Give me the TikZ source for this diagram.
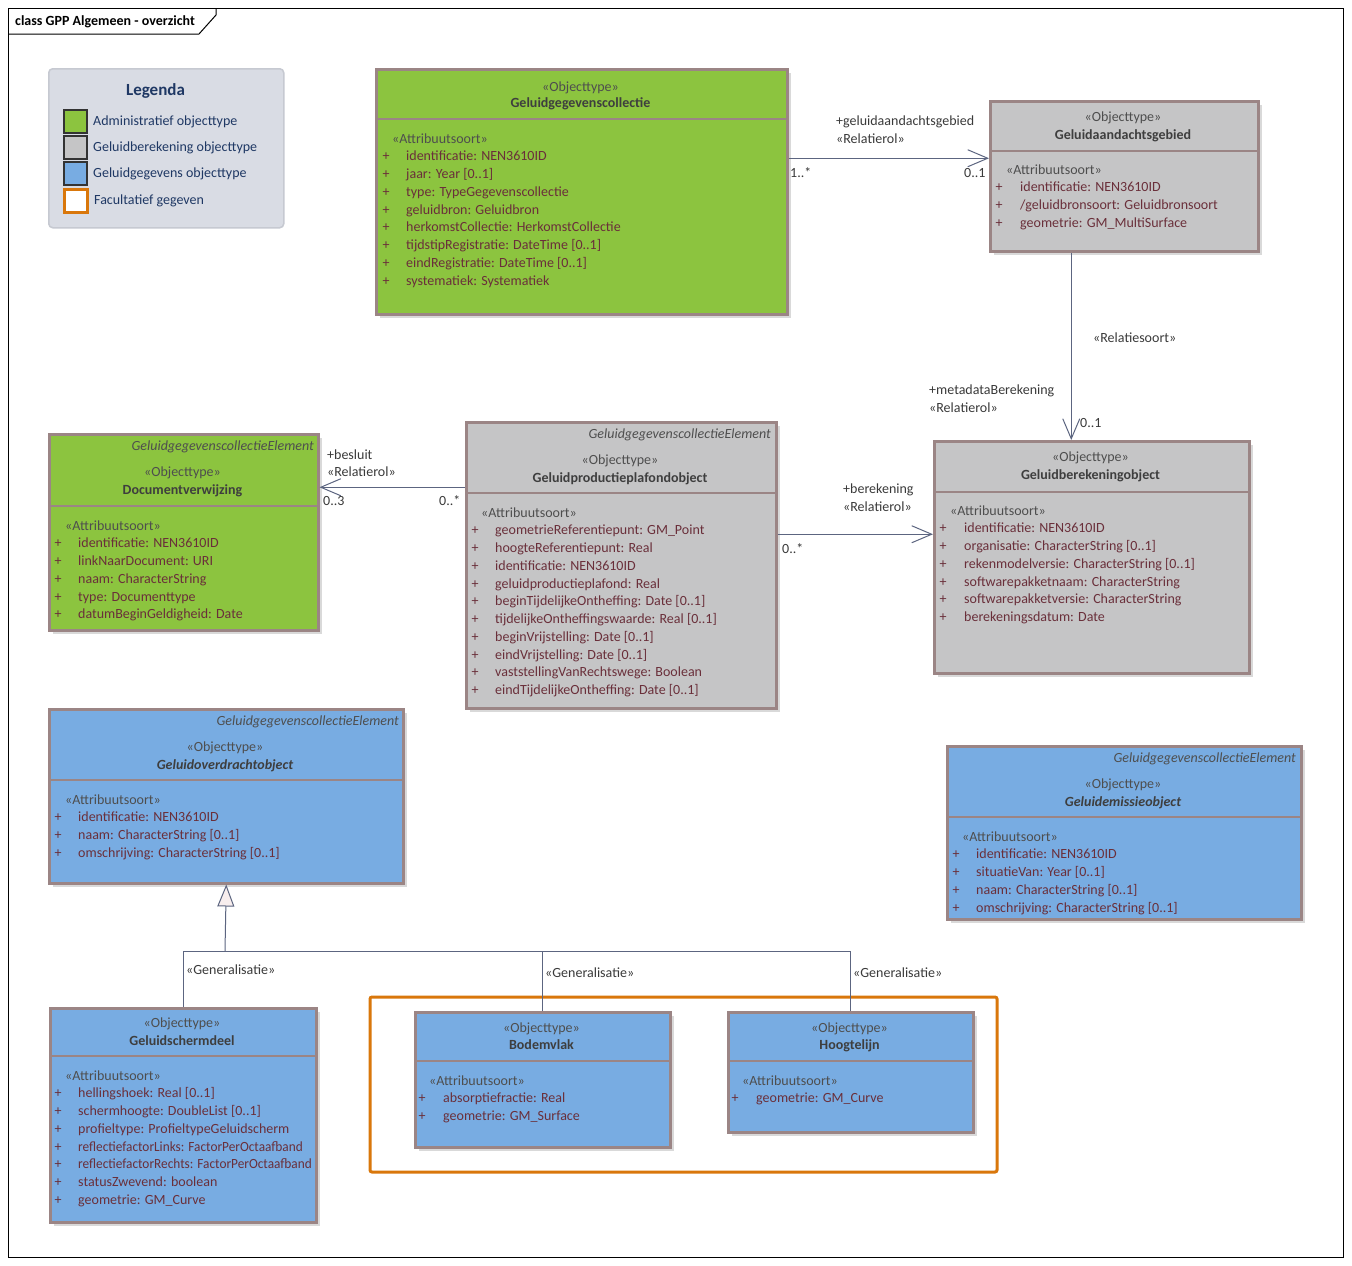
\documentclass[tikz,border=0pt]{standalone}
\usepackage{fontspec}
\setmainfont{Carlito}
\usepackage{graphicx}
\usepackage{tikz}
\usetikzlibrary{positioning, arrows.meta, shadows}
\definecolor{GreenFill}{HTML}{8CC43F}
\definecolor{GrayFill}{HTML}{C5C5C6}
\definecolor{BlueFill}{HTML}{78ACE2}
\definecolor{BoxBorder}{HTML}{9B8585}
\definecolor{AttrText}{HTML}{6A2F3A}
\definecolor{StereoText}{HTML}{4E4E4E}
\definecolor{NameText}{HTML}{3E3E3E}
\definecolor{LinkColor}{HTML}{5C6580}
\definecolor{LabelText}{HTML}{3A3A3A}
\definecolor{OptOrange}{HTML}{D9770B}
\definecolor{LegendFill}{HTML}{D9DCE4}
\definecolor{LegendLine}{HTML}{C6C9D1}
\definecolor{LegendText}{HTML}{1F3864}
\definecolor{TriFill}{HTML}{F8EEEE}
\newcommand{\umlfont}{\fontsize{14}{17}\selectfont}
\newcommand{\squeezed}[1]{\scalebox{0.95}[1]{#1}}

\begin{document}
\begin{tikzpicture}[
    x=1pt, y=-1pt,
    classbox/.style={
      rectangle, anchor=north west, inner sep=0pt,
      draw=BoxBorder, line width=2.5pt,
      drop shadow={shadow xshift=4pt, shadow yshift=-4pt, fill=black!15, opacity=1}
    },
    sepline/.style={BoxBorder, line width=2pt},
    stereo/.style={anchor=base, inner sep=0pt, font=\umlfont, text=StereoText},
    clsname/.style={anchor=base, inner sep=0pt, font=\umlfont\bfseries, text=NameText},
    absname/.style={clsname, font=\umlfont\bfseries\itshape},
    elem/.style={anchor=base east, inner sep=0pt, font=\umlfont\itshape, text=StereoText},
    attrhead/.style={anchor=base west, inner sep=0pt, font=\umlfont, text=StereoText},
    attr/.style={anchor=base west, inner sep=0pt, font=\umlfont, text=AttrText},
    plus/.style={anchor=base, inner sep=0pt, font=\umlfont, text=AttrText},
    lbl/.style={anchor=base west, inner sep=0pt, font=\umlfont, text=LabelText},
    link/.style={LinkColor, line width=1pt},
    assoc/.style={link, -{Straight Barb[length=20pt, width=17pt, line width=1pt]}},
    gen/.style={link, -{Triangle[open, length=22pt, width=17pt, fill=TriFill, line width=1pt]}},
    legbox/.style={rectangle, anchor=north west, inner sep=0pt, minimum width=23pt, minimum height=23pt, draw=black!80, line width=1.5pt},
    legtext/.style={anchor=base west, inner sep=0pt, font=\umlfont, text=LegendText}
  ]
    \useasboundingbox (0,0) rectangle (1352,1266);
    \fill[white] (0,0) rectangle (1352,1266);

    %% Frame
    \draw[black, line width=1pt] (8,8) rectangle (1343,1257);
    \draw[black, line width=1pt] (8,34) -- (199,34) -- (216,15) -- (216,8);
    \node[anchor=base west, inner sep=0pt, font=\umlfont\bfseries] (title) at (15,25) {class GPP Algemeen - overzicht};

    %% Legenda
    \node[rectangle, anchor=north west, rounded corners=4pt, fill=LegendFill, draw=LegendLine, line width=1.5pt,
          minimum width=235pt, minimum height=159pt] (legend) at (48,68) {};
    \node[anchor=base, inner sep=0pt, font=\fontsize{17}{20}\selectfont\bfseries, text=LegendText] (legtitle) at (155.5,95) {Legenda};
    \node[legbox, fill=GreenFill] (leg1) at (63,109) {};
    \node[legbox, fill=GrayFill] (leg2) at (63,135) {};
    \node[legbox, fill=BlueFill] (leg3) at (63,161) {};
    \node[legbox, fill=white, draw=OptOrange, line width=2.5pt] (leg4) at (63,188) {};
    \node[legtext] (legt1) at (93,125) {Administratief objecttype};
    \node[legtext] (legt2) at (93,151) {Geluidberekening objecttype};
    \node[legtext] (legt3) at (93,177) {Geluidgegevens objecttype};
    \node[legtext] (legt4) at (94,204) {Facultatief gegeven};

    %% Facultatief kader
    \draw[OptOrange, line width=3pt, rounded corners=2pt] (370,997) rectangle (997,1172);

    %% Geluidgegevenscollectie
    \node[classbox, fill=GreenFill, minimum width=411pt, minimum height=245pt] (gc) at (375,68) {};
    \draw[sepline] (375,119) -- (786,119);
    \node[stereo] (gc-st) at (580.5,91) {«Objecttype»};
    \node[clsname] (gc-nm) at (580.5,107) {Geluidgegevenscollectie};
    \node[attrhead] (gc-ah) at (392,143) {«Attribuutsoort»};
    \foreach \a [count=\i] in {identificatie: NEN3610ID, jaar: Year [0..1], type: TypeGegevenscollectie,
        geluidbron: Geluidbron, herkomstCollectie: HerkomstCollectie, tijdstipRegistratie: DateTime [0..1],
        eindRegistratie: DateTime [0..1], systematiek: Systematiek} {
      \node[plus] (gc-p\i) at (386,143+17.75*\i) {+};
      \node[attr] (gc-a\i) at (406,143+17.75*\i) {\a};
    }

    %% Geluidaandachtsgebied
    \node[classbox, fill=GrayFill, minimum width=268pt, minimum height=150pt] (ga) at (989,100) {};
    \draw[sepline] (989,151) -- (1257,151);
    \node[stereo] (ga-st) at (1123,121) {«Objecttype»};
    \node[clsname] (ga-nm) at (1123,139) {Geluidaandachtsgebied};
    \node[attrhead] (ga-ah) at (1006,174) {«Attribuutsoort»};
    \foreach \a [count=\i] in {identificatie: NEN3610ID, /geluidbronsoort: Geluidbronsoort, geometrie: GM\_MultiSurface} {
      \node[plus] (ga-p\i) at (999,174+17.75*\i) {+};
      \node[attr] (ga-a\i) at (1020,174+17.75*\i) {\a};
    }

    %% Geluidberekeningobject
    \node[classbox, fill=GrayFill, minimum width=315pt, minimum height=232pt] (gb) at (933,440) {};
    \draw[sepline] (933,492) -- (1248,492);
    \node[stereo] (gb-st) at (1090.5,461) {«Objecttype»};
    \node[clsname] (gb-nm) at (1090.5,479) {Geluidberekeningobject};
    \node[attrhead] (gb-ah) at (950,515) {«Attribuutsoort»};
    \foreach \a [count=\i] in {identificatie: NEN3610ID, organisatie: CharacterString [0..1],
        rekenmodelversie: CharacterString [0..1], softwarepakketnaam: CharacterString,
        softwarepakketversie: CharacterString, berekeningsdatum: Date} {
      \node[plus] (gb-p\i) at (943,515+17.75*\i) {+};
      \node[attr] (gb-a\i) at (964,515+17.75*\i) {\a};
    }

    %% Geluidproductieplafondobject
    \node[classbox, fill=GrayFill, minimum width=310pt, minimum height=286pt] (gp) at (465,421) {};
    \draw[sepline] (465,493) -- (775,493);
    \node[elem] (gp-el) at (771,438) {GeluidgegevenscollectieElement};
    \node[stereo] (gp-st) at (620,464) {«Objecttype»};
    \node[clsname] (gp-nm) at (620,482) {Geluidproductieplafondobject};
    \node[attrhead] (gp-ah) at (481,517) {«Attribuutsoort»};
    \foreach \a [count=\i] in {geometrieReferentiepunt: GM\_Point, hoogteReferentiepunt: Real,
        identificatie: NEN3610ID, geluidproductieplafond: Real, beginTijdelijkeOntheffing: Date [0..1],
        tijdelijkeOntheffingswaarde: Real [0..1], beginVrijstelling: Date [0..1], eindVrijstelling: Date [0..1],
        vaststellingVanRechtswege: Boolean, eindTijdelijkeOntheffing: Date [0..1]} {
      \node[plus] (gp-p\i) at (475,517+17.75*\i) {+};
      \node[attr] (gp-a\i) at (495,517+17.75*\i) {\a};
    }

    %% Documentverwijzing
    \node[classbox, fill=GreenFill, minimum width=269pt, minimum height=196pt] (dv) at (48,433) {};
    \draw[sepline] (48,506) -- (317,506);
    \node[elem] (dv-el) at (314,450) {GeluidgegevenscollectieElement};
    \node[stereo] (dv-st) at (182.5,476) {«Objecttype»};
    \node[clsname] (dv-nm) at (182.5,494) {Documentverwijzing};
    \node[attrhead] (dv-ah) at (65,530) {«Attribuutsoort»};
    \foreach \a [count=\i] in {identificatie: NEN3610ID, linkNaarDocument: URI, naam: CharacterString,
        type: Documenttype, datumBeginGeldigheid: Date} {
      \node[plus] (dv-p\i) at (58,530+17.75*\i) {+};
      \node[attr] (dv-a\i) at (78,530+17.75*\i) {\a};
    }

    %% Geluidoverdrachtobject
    \node[classbox, fill=BlueFill, minimum width=354pt, minimum height=174pt] (go) at (48,708) {};
    \draw[sepline] (48,780) -- (402,780);
    \node[elem] (go-el) at (399,725) {GeluidgegevenscollectieElement};
    \node[stereo] (go-st) at (225,751) {«Objecttype»};
    \node[absname] (go-nm) at (225,769) {Geluidoverdrachtobject};
    \node[attrhead] (go-ah) at (65,804) {«Attribuutsoort»};
    \foreach \a [count=\i] in {identificatie: NEN3610ID, naam: CharacterString [0..1], omschrijving: CharacterString [0..1]} {
      \node[plus] (go-p\i) at (58,804+17.75*\i) {+};
      \node[attr] (go-a\i) at (78,804+17.75*\i) {\a};
    }

    %% Geluidemissieobject
    \node[classbox, fill=BlueFill, minimum width=354pt, minimum height=173pt] (ge) at (946,745) {};
    \draw[sepline] (946,817) -- (1300,817);
    \node[elem] (ge-el) at (1296,762) {GeluidgegevenscollectieElement};
    \node[stereo] (ge-st) at (1123,788) {«Objecttype»};
    \node[absname] (ge-nm) at (1123,806) {Geluidemissieobject};
    \node[attrhead] (ge-ah) at (962,841) {«Attribuutsoort»};
    \foreach \a [count=\i] in {identificatie: NEN3610ID, situatieVan: Year [0..1], naam: CharacterString [0..1],
        omschrijving: CharacterString [0..1]} {
      \node[plus] (ge-p\i) at (956,841+17.75*\i) {+};
      \node[attr] (ge-a\i) at (976,841+17.75*\i) {\a};
    }

    %% Geluidschermdeel
    \node[classbox, fill=BlueFill, minimum width=266pt, minimum height=214pt] (gs) at (49,1007) {};
    \draw[sepline] (49,1056) -- (315,1056);
    \node[stereo] (gs-st) at (182,1027) {«Objecttype»};
    \node[clsname] (gs-nm) at (182,1045) {Geluidschermdeel};
    \node[attrhead] (gs-ah) at (65,1080) {«Attribuutsoort»};
    \foreach \a [count=\i] in {hellingshoek: Real [0..1], schermhoogte: DoubleList [0..1],
        profieltype: ProfieltypeGeluidscherm, \squeezed{reflectiefactorLinks: FactorPerOctaafband},
        \squeezed{reflectiefactorRechts: FactorPerOctaafband}, statusZwevend: boolean, geometrie: GM\_Curve} {
      \node[plus] (gs-p\i) at (58,1080+17.75*\i) {+};
      \node[attr] (gs-a\i) at (78,1080+17.75*\i) {\a};
    }

    %% Bodemvlak
    \node[classbox, fill=BlueFill, minimum width=255pt, minimum height=135pt] (bv) at (414,1011) {};
    \draw[sepline] (414,1061) -- (669,1061);
    \node[stereo] (bv-st) at (541.5,1032) {«Objecttype»};
    \node[clsname] (bv-nm) at (541.5,1049) {Bodemvlak};
    \node[attrhead] (bv-ah) at (429,1085) {«Attribuutsoort»};
    \foreach \a [count=\i] in {absorptiefractie: Real, geometrie: GM\_Surface} {
      \node[plus] (bv-p\i) at (422,1085+17.75*\i) {+};
      \node[attr] (bv-a\i) at (443,1085+17.75*\i) {\a};
    }

    %% Hoogtelijn
    \node[classbox, fill=BlueFill, minimum width=245pt, minimum height=120pt] (hl) at (727,1011) {};
    \draw[sepline] (727,1061) -- (972,1061);
    \node[stereo] (hl-st) at (849.5,1032) {«Objecttype»};
    \node[clsname] (hl-nm) at (849.5,1049) {Hoogtelijn};
    \node[attrhead] (hl-ah) at (742,1085) {«Attribuutsoort»};
    \node[plus] (hl-p1) at (735,1102.75) {+};
    \node[attr] (hl-a1) at (756,1102.75) {geometrie: GM\_Curve};

    %% Associaties
    \draw[assoc] ([yshift=33.5pt]gc.east) coordinate (a1) -- (ga.west |- a1);
    \node[lbl] (a1-rol) at (836,125) {+geluidaandachtsgebied};
    \node[lbl] (a1-st) at (836,143) {«Relatierol»};
    \node[lbl] (a1-m1) at (790,177) {1..*};
    \node[lbl] (a1-m2) at (964,177) {0..1};

    \draw[assoc] ([xshift=-53pt]ga.south) coordinate (a2) -- (a2 |- gb.north);
    \node[lbl] (a2-st) at (1093,342) {«Relatiesoort»};
    \node[lbl] (a2-rol) at (929,394) {+metadataBerekening};
    \node[lbl] (a2-rs) at (929,412) {«Relatierol»};
    \node[lbl] (a2-m) at (1080,427) {0..1};

    \draw[assoc] ([yshift=31pt]gp.east) coordinate (a3) -- (a3 -| gb.west);
    \node[lbl] (a3-rol) at (843,493) {+berekening};
    \node[lbl] (a3-st) at (843,511) {«Relatierol»};
    \node[lbl] (a3-m) at (782,553) {0..*};

    \draw[assoc] ([yshift=78pt]gp.west) coordinate (a4) -- (a4 -| dv.east);
    \node[lbl] (a4-rol) at (327,459) {+besluit};
    \node[lbl] (a4-st) at (327,476) {«Relatierol»};
    \node[lbl] (a4-m1) at (323,505) {0..3};
    \node[lbl] (a4-m2) at (439,505) {0..*};

    %% Generalisaties
    \coordinate (gj) at (225,951);
    \draw[link] (gs.north) |- (hl.north |- gj) -- (hl.north);
    \draw[link] (bv.north |- gj) -- (bv.north);
    \draw[gen] (gj) -- (go.south);
    \node[lbl] (g1) at (186,974) {«Generalisatie»};
    \node[lbl] (g2) at (545,977) {«Generalisatie»};
    \node[lbl] (g3) at (853,977) {«Generalisatie»};
  \end{tikzpicture}
\end{document}
